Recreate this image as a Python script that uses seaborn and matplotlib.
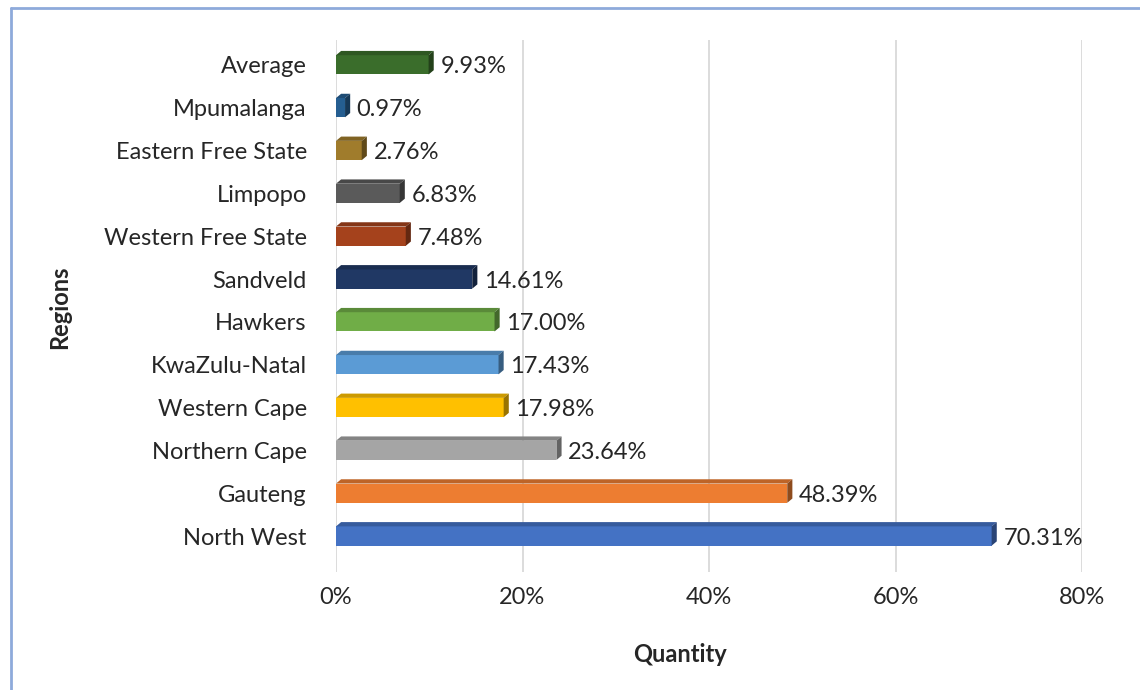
import matplotlib
matplotlib.use("Agg")
import matplotlib.pyplot as plt
import seaborn as sns
import pandas as pd
import numpy as np
from matplotlib.patches import Polygon
from matplotlib.colors import to_rgb
from matplotlib.lines import Line2D

regions = ["Average", "Mpumalanga", "Eastern Free State", "Limpopo",
           "Western Free State", "Sandveld", "Hawkers", "KwaZulu-Natal",
           "Western Cape", "Northern Cape", "Gauteng", "North West"]
values = [9.93, 0.97, 2.76, 6.83, 7.48, 14.61, 17.00, 17.43, 17.98, 23.64, 48.39, 70.31]
colors = ["#3a6d2b", "#255e91", "#a07c2c", "#5a5a5a", "#a5421c", "#203864",
          "#70ad47", "#5b9bd5", "#ffc000", "#a5a5a5", "#ed7d31", "#4472c4"]
xticks = [0, 20, 40, 60, 80]

sns.set_theme(style="white")
plt.rcParams["font.family"] = ["Lato", "DejaVu Sans"]

df = pd.DataFrame({"Region": regions, "Value": values})

fig = plt.figure(figsize=(11.4, 6.9), dpi=100)
W, H = 1140, 690
ax = fig.add_axes([336 / W, 1 - 572 / H, 746 / W, (572 - 40) / H])

sns.barplot(data=df, y="Region", x="Value", hue="Region", palette=colors,
            legend=False, orient="h", width=0.45, ax=ax, saturation=1,
            edgecolor="none", zorder=3)

ax.set_xlim(0, 80)
ax.set_ylim(11.84, -0.58)
ax.set_xticks(xticks)
ax.set_xticklabels([f"{t}%" for t in xticks], fontsize=17, color="#262626")
ax.tick_params(axis="x", pad=11, length=0)
ax.tick_params(axis="y", pad=21, length=0, labelsize=17, labelcolor="#262626")
ax.grid(axis="x", color="#d9d9d9", linewidth=1.3, zorder=0)
ax.grid(axis="y", visible=False)
for s in ax.spines.values():
    s.set_visible(False)

ax.set_xlabel("Quantity", fontsize=17, fontweight="bold", color="#262626")
ax.set_ylabel("Regions", fontsize=17, fontweight="bold", color="#262626")
ax.xaxis.set_label_coords((680 - 336) / 746, -(655 - 572) / 532, transform=ax.transAxes)
ax.xaxis.label.set_va("center")
ax.yaxis.set_label_coords(-(336 - 60) / 746, (572 - 307) / 532, transform=ax.transAxes)
ax.yaxis.label.set_va("center")

# 3D effect derived from bar geometry
dx = 0.55   # depth in data x units
dy = 0.10   # depth in data y units
def darken(c, f):
    r, g, b = to_rgb(c)
    return (r * f, g * f, b * f)

for p, col, v in zip(ax.patches, colors, values):
    x0 = p.get_x()
    w = p.get_width()
    y_top = p.get_y()
    h = p.get_height()
    y_bot = y_top + h
    top = Polygon([[x0, y_top], [x0 + w, y_top], [x0 + w + dx, y_top - dy], [x0 + dx, y_top - dy]],
                  closed=True, facecolor=darken(col, 0.8), edgecolor="none", zorder=3)
    side = Polygon([[x0 + w, y_top], [x0 + w + dx, y_top - dy], [x0 + w + dx, y_bot - dy], [x0 + w, y_bot]],
                   closed=True, facecolor=darken(col, 0.6), edgecolor="none", zorder=3)
    ax.add_patch(top)
    ax.add_patch(side)
    ax.text(x0 + w + dx + 0.7, p.get_y() + h / 2 + 0.05, f"{v:.2f}%", va="center", ha="left",
            fontsize=17, color="#262626", zorder=4)

# figure border
fig.add_artist(Line2D([11 / W, 1.0], [1 - 8 / H, 1 - 8 / H], color="#8eaadb", linewidth=2,
                      transform=fig.transFigure))
fig.add_artist(Line2D([11 / W, 11 / W], [0, 1 - 8 / H], color="#8eaadb", linewidth=2,
                      transform=fig.transFigure))

fig.savefig("out.png", dpi=100)
